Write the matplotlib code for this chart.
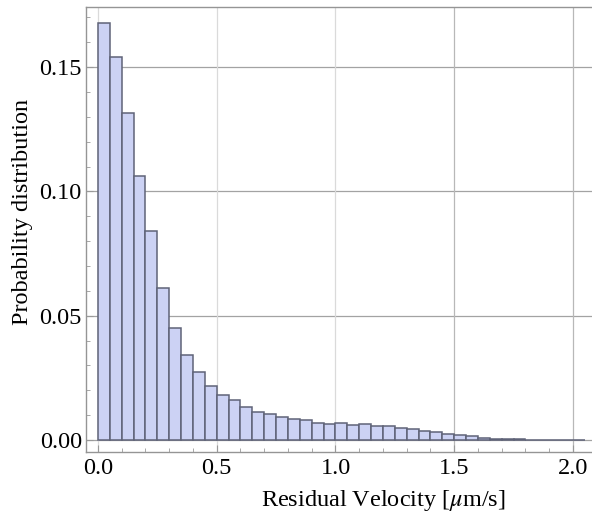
import matplotlib
matplotlib.use("Agg")
import matplotlib.pyplot as plt
import numpy as np
from matplotlib.ticker import MultipleLocator

bin_width = 0.05
probabilities = [0.1679, 0.1540, 0.1315, 0.1062, 0.0842, 0.0612, 0.0449, 0.0342,
                 0.0275, 0.0219, 0.0181, 0.0160, 0.0133, 0.0114, 0.0103, 0.0093,
                 0.0083, 0.0079, 0.0070, 0.0064, 0.0067, 0.0059, 0.0063, 0.0056,
                 0.0055, 0.0049, 0.0043, 0.0037, 0.0032, 0.0024, 0.0019, 0.0016,
                 0.0008, 0.0005, 0.0004, 0.0003, 0.0002, 0.0002, 0.0001, 0.0001,
                 0.0001]
bin_left = [i * bin_width for i in range(len(probabilities))]
x_ticks = [0.0, 0.5, 1.0, 1.5, 2.0]
x_tick_labels = ["0.0", "0.5", "1.0", "1.5", "2.0"]
y_ticks = [0.00, 0.05, 0.10, 0.15]
y_tick_labels = ["0.00", "0.05", "0.10", "0.15"]

plt.rcParams['font.family'] = ['Liberation Serif', 'DejaVu Serif']
plt.rcParams['mathtext.fontset'] = 'stix'

FS = 17.5
fig = plt.figure(figsize=(5.92, 5.19), dpi=100)
ax = fig.add_axes([86/592, 1-452/519, 1-86/592+0.01, (452-7)/519])

ax.set_xlim(-0.0505, 2.105)
ax.set_ylim(-0.0048, 0.1742)

for y in y_ticks:
    ax.axhline(y, color='#a3a3a3', lw=0.9, zorder=0)
for x in x_ticks:
    ax.axvline(x, color='#dadada' if x < 1.2 else '#b8b8b8', lw=0.9, zorder=0)

ax.bar(bin_left, probabilities, width=bin_width, align='edge',
       color='#ccd2f4', edgecolor='#5f6378', linewidth=1.1, zorder=2)

ax.set_xticks(x_ticks)
ax.set_xticklabels(x_tick_labels)
ax.set_yticks(y_ticks)
ax.set_yticklabels(y_tick_labels)
ax.xaxis.set_minor_locator(MultipleLocator(0.1))
ax.yaxis.set_minor_locator(MultipleLocator(0.01))

ax.tick_params(which='both', direction='in', colors='#999999', labelcolor='black',
               labelsize=FS, top=False, right=False)
ax.tick_params(which='major', length=5, width=0.8)
ax.tick_params(which='minor', length=3, width=0.6)
ax.tick_params(axis='y', pad=3)
ax.tick_params(axis='x', pad=4)

for s in ['left', 'bottom', 'top']:
    ax.spines[s].set_color('#959595')
    ax.spines[s].set_linewidth(1.0)
ax.spines['right'].set_visible(False)

ax.set_xlabel(r"Residual Velocity [$\mu$m/s]", fontsize=FS)
ax.set_ylabel("Probability distribution", fontsize=FS)
ax_w = (1-86/592+0.01)*592
ax.xaxis.set_label_coords((383-86)/ax_w, -0.08)
ax.yaxis.set_label_coords((33-86)/ax_w, (452-212)/445)

fig.savefig("out.png", dpi=100)
